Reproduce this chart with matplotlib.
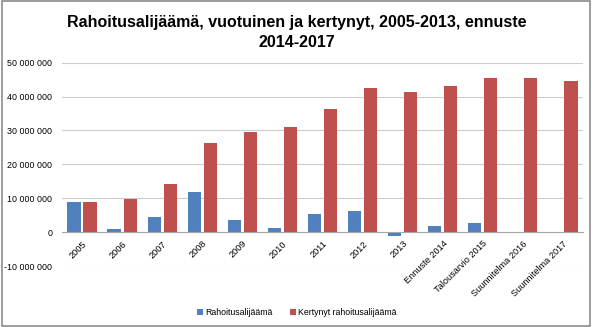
import numpy as np
import matplotlib.pyplot as plt
from matplotlib.patches import Rectangle

categories = ['2005', '2006', '2007', '2008', '2009', '2010', '2011', '2012', '2013',
              'Ennuste 2014', 'Talousarvio 2015', 'Suunnitelma 2016', 'Suunnitelma 2017']
vuotuinen = [8.9e6, 0.9e6, 4.5e6, 11.9e6, 3.6e6, 1.2e6, 5.4e6, 6.2e6, -1.0e6,
             1.8e6, 2.6e6, -0.2e6, 0.0]
kertynyt = [8.9e6, 9.8e6, 14.1e6, 26.2e6, 29.6e6, 30.9e6, 36.2e6, 42.4e6, 41.3e6,
            43.1e6, 45.6e6, 45.5e6, 44.5e6]
yticks = [-10e6, 0, 10e6, 20e6, 30e6, 40e6, 50e6]

plt.rcParams['font.family'] = ['Liberation Sans', 'DejaVu Sans']

fig = plt.figure(figsize=(5.94, 3.27), dpi=100)
ax = fig.add_axes([0.1044, 0.1865, 0.877, 0.6218])

# category axis runs along the zero line (set first: moving a spine resets the ticks)
for name, s in ax.spines.items():
    s.set_visible(name == 'bottom')
ax.spines['bottom'].set_position(('data', 0))
ax.spines['bottom'].set_color('#A6A6A6')
ax.spines['bottom'].set_linewidth(0.8)
ax.spines['bottom'].set_zorder(4)

x = np.arange(len(categories))
w = 0.33
ax.bar(x - 0.2, vuotuinen, w, color='#4F81BD', label='Rahoitusalijäämä', zorder=3)
ax.bar(x + 0.2, kertynyt, w, color='#C0504D', label='Kertynyt rahoitusalijäämä', zorder=3)

ax.set_xlim(-0.5, len(categories) - 0.5)
ax.set_ylim(-10e6, 50e6)
ax.set_yticks(yticks)
ax.set_yticklabels([f'{int(v):,}'.replace(',', ' ') for v in yticks], fontsize=6.4)
ax.grid(axis='y', color='#CCCCCC', linewidth=0.8, zorder=0)
ax.set_xticks(x)
ax.set_xticklabels(categories, rotation=45, ha='right', rotation_mode='anchor', fontsize=6.6)
ax.tick_params(axis='y', length=0, pad=7)
ax.tick_params(axis='x', length=0, pad=5)

fig.text(0.5, 0.9, 'Rahoitusalijäämä, vuotuinen ja kertynyt, 2005-2013, ennuste\n2014-2017',
         ha='center', va='center', fontsize=11.5, fontweight='bold', linespacing=1.45)

fig.legend(loc='center', bbox_to_anchor=(0.5, 0.045), ncol=2, frameon=False, fontsize=6.3,
           handlelength=0.7, handleheight=0.7, handletextpad=0.3, columnspacing=1.9)

fig.patches.append(Rectangle((0.004, 0.004), 0.99, 0.993, transform=fig.transFigure,
                             fill=False, edgecolor='#8C8C8C', linewidth=1.2))

fig.savefig('out.png', dpi=100)
